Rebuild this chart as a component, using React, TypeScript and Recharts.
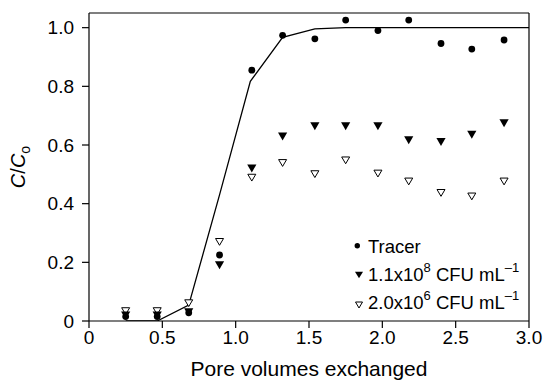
import React from "react";
import { ComposedChart, Line, Scatter, XAxis, YAxis, ReferenceLine } from "recharts";

// pore volumes at which samples were taken
const poreVolumes = [0.25, 0.465, 0.68, 0.89, 1.11, 1.32, 1.54, 1.75, 1.97, 2.18, 2.4, 2.61, 2.83];
const tracer = [0.015, 0.015, 0.028, 0.225, 0.855, 0.974, 0.962, 1.026, 0.99, 1.026, 0.946, 0.927, 0.958];
const highConc = [0.019, 0.019, 0.03, 0.19, 0.52, 0.629, 0.664, 0.664, 0.664, 0.616, 0.61, 0.635, 0.674];
const lowConc = [0.034, 0.034, 0.061, 0.27, 0.489, 0.539, 0.501, 0.548, 0.503, 0.476, 0.437, 0.425, 0.476];

// model curve for the tracer
const fitX = [0.25, 0.465, 0.68, 0.89, 1.1, 1.32, 1.54, 1.75, 3.0];
const fitY = [0, 0, 0.054, 0.43, 0.817, 0.967, 0.996, 1.0, 1.0];

const xTicks = [0, 0.5, 1, 1.5, 2, 2.5, 3];
const yTicks = [0, 0.2, 0.4, 0.6, 0.8, 1.0];

const FONT = "'Liberation Sans', Arial, sans-serif";

const toPts = (ys: number[]) => poreVolumes.map((x, i) => ({ x, y: ys[i] }));
const fitData = fitX.map((x, i) => ({ x, y: fitY[i] }));

const fmt = (v: number) => (v === 0 ? "0" : v.toFixed(1));

const Dot = (p: any) => <circle cx={p.cx} cy={p.cy} r={3.4} fill="#000" />;
const TriFilled = (p: any) => (
  <polygon
    points={`${p.cx - 4.6},${p.cy - 4} ${p.cx + 4.6},${p.cy - 4} ${p.cx},${p.cy + 4}`}
    fill="#000"
  />
);
const TriOpen = (p: any) => (
  <polygon
    points={`${p.cx - 4},${p.cy - 3.3} ${p.cx + 4},${p.cy - 3.3} ${p.cx},${p.cy + 3.5}`}
    fill="#fff"
    stroke="#000"
    strokeWidth={1}
  />
);

export default function App() {
  const tickStyle = { fill: "#000", fontSize: 19, fontFamily: FONT };
  return (
    <div style={{ position: "absolute", left: 0, top: 0, width: 544, height: 381, background: "#fff" }}>
      <ComposedChart width={544} height={381} margin={{ top: 13, right: 15, left: 0, bottom: 0 }}>
        <XAxis
          type="number"
          dataKey="x"
          domain={[0, 3]}
          ticks={xTicks}
          tickFormatter={fmt}
          height={60}
          tickSize={7}
          tickMargin={3}
          tick={tickStyle}
          axisLine={{ stroke: "#000", strokeWidth: 1.2 }}
          tickLine={{ stroke: "#000", strokeWidth: 1.2 }}
          interval={0}
        />
        <YAxis
          type="number"
          dataKey="y"
          domain={[0, 1.05]}
          allowDataOverflow
          ticks={yTicks}
          tickFormatter={fmt}
          width={89}
          tickSize={7}
          tickMargin={8}
          tick={tickStyle}
          axisLine={{ stroke: "#000", strokeWidth: 1.2 }}
          tickLine={{ stroke: "#000", strokeWidth: 1.2 }}
          interval={0}
        />
        <ReferenceLine y={1.05} stroke="#000" strokeWidth={1.2} />
        <ReferenceLine x={3} stroke="#000" strokeWidth={1.2} />
        <Line
          data={fitData}
          dataKey="y"
          type="linear"
          stroke="#000"
          strokeWidth={1.3}
          dot={false}
          isAnimationActive={false}
        />
        <Scatter data={toPts(lowConc)} shape={TriOpen} isAnimationActive={false} />
        <Scatter data={toPts(highConc)} shape={TriFilled} isAnimationActive={false} />
        <Scatter data={toPts(tracer)} shape={Dot} isAnimationActive={false} />
      </ComposedChart>
      <svg
        width={544}
        height={381}
        style={{ position: "absolute", left: 0, top: 0, pointerEvents: "none" }}
        fontFamily={FONT}
      >
        <text x={309} y={376} fontSize={21} textAnchor="middle" fill="#000">
          Pore volumes exchanged
        </text>
        <text transform="translate(25,167) rotate(-90)" fontSize={20} textAnchor="middle" fill="#000">
          <tspan fontStyle="italic">C</tspan>
          <tspan>/</tspan>
          <tspan fontStyle="italic">C</tspan>
          <tspan fontSize={14} dy={5}>o</tspan>
        </text>
        {/* legend */}
        <circle cx={357.3} cy={245.7} r={2.7} fill="#000" />
        <text x={368} y={253} fontSize={18.5} fill="#000">Tracer</text>
        <polygon points="355,271.7 363,271.7 359,278.3" fill="#000" />
        <text x={368} y={280.5} fontSize={18.5} fill="#000">
          1.1x10<tspan fontSize={13} dy={-9}>8</tspan>
          <tspan dy={9}> CFU mL</tspan>
          <tspan fontSize={13} dy={-9}>–1</tspan>
        </text>
        <polygon points="355.5,302 362.5,302 359,308" fill="#fff" stroke="#000" strokeWidth={1} />
        <text x={368} y={309.3} fontSize={18.5} fill="#000">
          2.0x10<tspan fontSize={13} dy={-9}>6</tspan>
          <tspan dy={9}> CFU mL</tspan>
          <tspan fontSize={13} dy={-9}>–1</tspan>
        </text>
      </svg>
    </div>
  );
}
